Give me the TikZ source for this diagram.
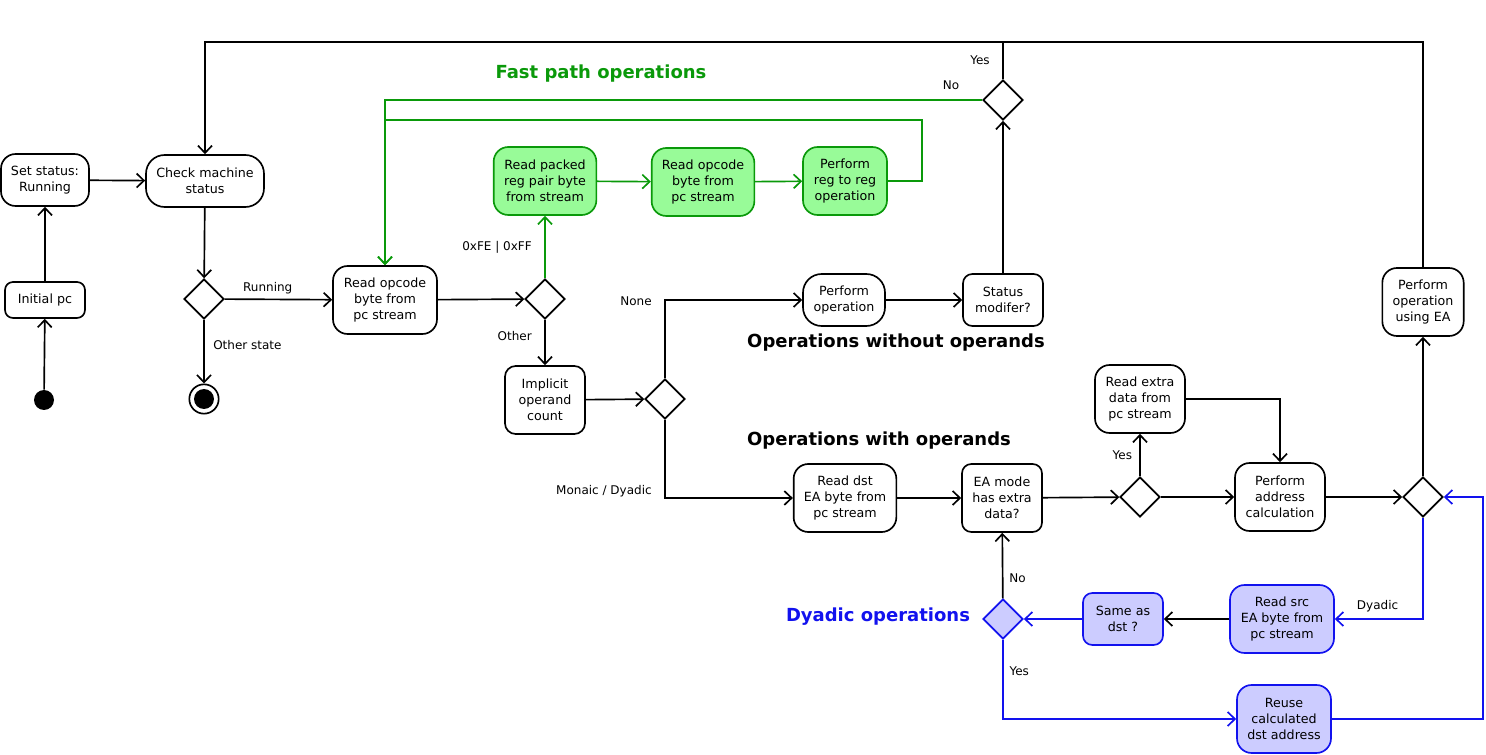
\documentclass[tikz,border=0pt]{standalone}
\usepackage{fontspec}
\setmainfont{DejaVu Sans}
\usepackage{xcolor}
\usepackage{tikz}
\usetikzlibrary{calc,positioning,shapes.geometric,arrows.meta}
\definecolor{fastgreen}{HTML}{0A990A}
\definecolor{fastfill}{HTML}{98FB98}
\definecolor{dyblue}{HTML}{1212EE}
\definecolor{dyfill}{HTML}{CCCCFF}

\begin{document}
\begin{tikzpicture}[
  x=0.75pt, y=-0.75pt,
  action/.style={
    rectangle, rounded corners=11pt, draw, line width=1.25pt,
    align=center, inner sep=2pt, minimum height=51pt,
    font=\fontsize{9.5}{12}\selectfont,
  },
  fastbox/.style={action, draw=fastgreen, fill=fastfill},
  dybox/.style={action, draw=dyblue, fill=dyfill},
  choice/.style={diamond, draw, line width=1.25pt, fill=white, minimum size=30pt, inner sep=0pt},
  startdot/.style={circle, fill=black, minimum size=15pt, inner sep=0pt},
  stopring/.style={circle, draw, line width=1.25pt, fill=white, minimum size=22pt, inner sep=0pt},
  flow/.style={-{Straight Barb[length=5.5pt,width=10.5pt]}, line width=1.25pt},
  fastflow/.style={flow, fastgreen},
  dyflow/.style={flow, dyblue},
  guard/.style={font=\fontsize{9}{11}\selectfont},
  title/.style={font=\fontsize{13.5}{16}\selectfont\bfseries},
]
\useasboundingbox (0,0) rectangle (1486,755);

% Start-up
\node[startdot] (start) at (44,400) {};
\node[action, minimum width=60pt, minimum height=27pt, rounded corners=6pt] (initpc) at (45,300) {Initial pc};
\node[action, minimum width=66pt, minimum height=39pt] (setrun) at (45,180) {Set status:\\Running};
\node[action, minimum width=88.5pt, minimum height=39pt, rounded corners=14pt] (chk) at (205,181) {Check machine\\status};
\node[choice] (dstate) at (204,299) {};
\node[stopring] (stop) at (204,399) {};
\node[startdot] (stopdot) at (stop.center) {};

% Opcode decoding
\node[action, minimum width=78pt] (rdop) at (385,300) {Read opcode\\byte from\\pc stream};
\node[choice] (dop) at (545,299) {};
\node[action, minimum width=60pt, rounded corners=8pt] (implicit) at (545,400) {Implicit\\operand\\count};
\node[choice] (dcount) at (665,399) {};

% Fast path
\node[fastbox, minimum width=77pt] (rdpair) at (545,181) {Read packed\\reg pair byte\\from stream};
\node[fastbox, minimum width=77pt] (rdop2) at (703,182) {Read opcode\\byte from\\pc stream};
\node[fastbox, minimum width=63pt] (regop) at (845,181) {Perform\\reg to reg\\operation};
\node[title, text=fastgreen] (fasttitle) at (601,74) {Fast path operations};

% Operations without operands
\node[action, minimum width=61.5pt, minimum height=39pt, rounded corners=14pt] (perfop) at (844,300) {Perform\\operation};
\node[action, minimum width=60pt, minimum height=39pt, rounded corners=7pt] (statmod) at (1003,300) {Status\\modifer?};
\node[choice] (dstat) at (1003,100) {};
\node[title] (nooptitle) at (896,343) {Operations without operands};

% Operations with operands
\node[title] (optitle) at (879,441) {Operations with operands};
\node[action, minimum width=77pt] (rddst) at (845,498) {Read dst\\EA byte from\\pc stream};
\node[action, minimum width=60pt, rounded corners=7pt] (eamode) at (1002,498) {EA mode\\has extra\\data?};
\node[choice] (dextra) at (1140,497) {};
\node[action, minimum width=67.5pt] (rdextra) at (1140,399) {Read extra\\data from\\pc stream};
\node[action, minimum width=67.5pt] (addr) at (1280,497) {Perform\\address\\calculation};
\node[choice] (dmode) at (1423,497) {};
\node[action, minimum width=61pt] (opea) at (1423,302) {Perform\\operation\\using EA};

% Dyadic operations
\node[dybox, minimum width=78pt] (rdsrc) at (1282,619) {Read src\\EA byte from\\pc stream};
\node[dybox, minimum width=60pt, minimum height=39pt, rounded corners=7pt] (same) at (1123,619) {Same as\\dst ?};
\node[choice, draw=dyblue, fill=dyfill] (dsame) at (1003,619) {};
\node[dybox, minimum width=70.5pt] (reuse) at (1284,719) {Reuse\\calculated\\dst address};
\node[title, text=dyblue] (dytitle) at (878,617) {Dyadic operations};

\coordinate (topline) at (0,42);
\coordinate (greenline) at (922,120);
\coordinate (blueright) at (1483,0);

% Start-up flow
\draw[flow] (start) -- (initpc);
\draw[flow] (initpc) -- (setrun);
\draw[flow] (setrun) -- (chk);
\draw[flow] (chk) -- (dstate);
\draw[flow] (dstate) -- node[guard, above, pos=0.4] {Running} (rdop);
\draw[flow] (dstate) -- node[guard, right=3pt, pos=0.4] {Other state} (stop);

% Decoding flow
\draw[flow] (rdop) -- (dop);
\draw[flow] (dop) -- node[guard, left=6pt, pos=0.35] {Other} (implicit);
\draw[flow] (implicit) -- (dcount);
\draw[flow] (dcount.north) |- node[guard, left=6pt, pos=0.5, yshift=-1pt] {None} (perfop);
\draw[flow] (dcount.south) |- node[guard, anchor=east, xshift=-6pt, yshift=5pt, pos=0.5] {Monaic / Dyadic} (rddst);

% Fast path flow
\draw[fastflow] (dop) -- node[guard, text=black, left=6pt, pos=0.5] {0xFE | 0xFF} (rdpair);
\draw[fastflow] (rdpair) -- (rdop2);
\draw[fastflow] (rdop2) -- (regop);
\draw[fastflow] (regop.east) -| (greenline) -| (rdop.north);
\draw[fastflow] (dstat.west) -| node[guard, text=black, above=4pt, pos=0.026] {No} (rdop.north);

% Status loop
\draw[flow] (perfop) -- (statmod);
\draw[flow] (statmod) -- (dstat);
\draw[flow] (dstat.north) -- node[guard, left=6pt, pos=0.5] {Yes} (dstat.north |- topline) -| (chk.north);
\draw[line width=1.25pt] (opea.north) |- (dstat.north |- topline);

% Operand flow
\draw[flow] (rddst) -- (eamode);
\draw[flow] (eamode) -- (dextra);
\draw[flow] (dextra) -- node[guard, left=2pt, pos=0.5] {Yes} (rdextra);
\draw[flow] (dextra) -- (addr);
\draw[flow] (rdextra.east) -| (addr.north);
\draw[flow] (addr) -- (dmode);
\draw[flow] (dmode) -- (opea);

% Dyadic flow
\draw[dyflow] (dmode.south) |- node[guard, text=black, above left=2pt, pos=0.6] {Dyadic} (rdsrc.east);
\draw[flow] (rdsrc) -- (same);
\draw[dyflow] (same) -- (dsame);
\draw[flow] (dsame) -- node[guard, right=1pt, pos=0.3] {No} (eamode);
\draw[dyflow] (dsame.south) |- node[guard, text=black, right=1pt, pos=0.2] {Yes} (reuse.west);
\draw[dyflow] (reuse.east) -- (reuse.east -| blueright) |- (dmode.east);

\end{tikzpicture}
\end{document}
